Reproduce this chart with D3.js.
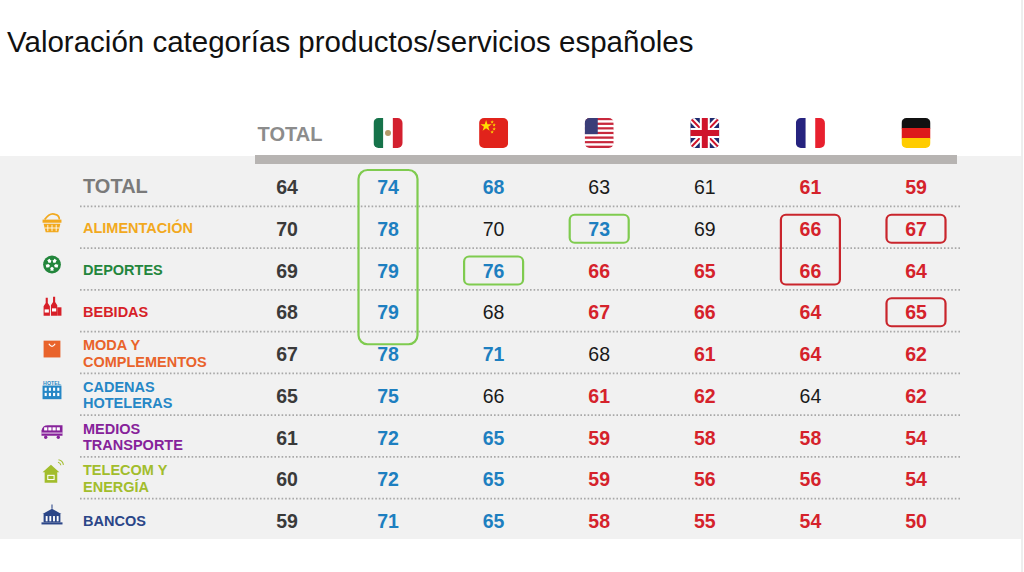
<!DOCTYPE html>
<html>
<head>
<meta charset="utf-8">
<script src="https://cdn.jsdelivr.net/npm/d3@7"></script>
<style>
  body { margin: 0; background: #fff; }
  svg { display: block; font-family: "Liberation Sans", Arial, sans-serif; }
</style>
</head>
<body>
<div class="chart"></div>
<script>
var width = 1024,
    height = 572;

// columns: TOTAL + countries
var countries = ["MX", "CN", "US", "UK", "FR", "DE"];
var categories = ["TOTAL", "ALIMENTACIÓN", "DEPORTES", "BEBIDAS", "MODA Y COMPLEMENTOS",
  "CADENAS HOTELERAS", "MEDIOS TRANSPORTE", "TELECOM Y ENERGÍA", "BANCOS"];
var labelLines = [["TOTAL"], ["ALIMENTACIÓN"], ["DEPORTES"], ["BEBIDAS"], ["MODA Y", "COMPLEMENTOS"],
  ["CADENAS", "HOTELERAS"], ["MEDIOS", "TRANSPORTE"], ["TELECOM Y", "ENERGÍA"], ["BANCOS"]];

var totalCol = [64, 70, 69, 68, 67, 65, 61, 60, 59];
var mexico   = [74, 78, 79, 79, 78, 75, 72, 72, 71];
var china    = [68, 70, 76, 68, 71, 66, 65, 65, 65];
var usa      = [63, 73, 66, 67, 68, 61, 59, 59, 58];
var uk       = [61, 69, 65, 66, 61, 62, 58, 56, 55];
var france   = [61, 66, 66, 64, 64, 64, 58, 56, 54];
var germany  = [59, 67, 64, 65, 62, 62, 54, 54, 50];

// significance: "b" above, "r" below, "n" neutral
var signifMX = ["b", "b", "b", "b", "b", "b", "b", "b", "b"];
var signifCN = ["b", "n", "b", "n", "b", "n", "b", "b", "b"];
var signifUS = ["n", "b", "r", "r", "n", "r", "r", "r", "r"];
var signifUK = ["n", "n", "r", "r", "r", "r", "r", "r", "r"];
var signifFR = ["r", "r", "r", "r", "r", "n", "r", "r", "r"];
var signifDE = ["r", "r", "r", "r", "r", "r", "r", "r", "r"];

var catColors = ["#7a7a7a", "#f2a91e", "#23863c", "#d71f28", "#e9632b", "#2587c6", "#86229a", "#a2bd2c", "#2b4688"];

// highlighted cells: [country, first row, last row, kind]
var highlights = [["MX", 0, 3, "g"], ["CN", 2, 2, "g"], ["US", 1, 1, "g"],
  ["FR", 1, 2, "r"], ["DE", 1, 1, "r"], ["DE", 3, 3, "r"]];

var values = [mexico, china, usa, uk, france, germany];
var signif = [signifMX, signifCN, signifUS, signifUK, signifFR, signifDE];

var x = d3.scalePoint().domain(countries).range([388, 916]);
var xTotal = 287;
var y = d3.scalePoint().domain(d3.range(categories.length)).range([187, 521]);
var step = y.step();

var svg = d3.select("div.chart").append("svg")
    .attr("width", width)
    .attr("height", height);

svg.append("text")
    .attr("x", 7)
    .attr("y", 52)
    .style("font-size", "29.5px")
    .style("fill", "#111")
    .text("Valoración categorías productos/servicios españoles");

// gray panel
svg.append("rect")
    .attr("x", 0).attr("y", 156)
    .attr("width", 1021).attr("height", 383)
    .attr("fill", "#f1f1f1");

svg.append("line")
    .attr("x1", 1022).attr("x2", 1022)
    .attr("y1", 0).attr("y2", height)
    .attr("stroke", "#dcdcdc").attr("stroke-width", 1);

// header bar
svg.append("rect")
    .attr("x", 255).attr("y", 155)
    .attr("width", 702).attr("height", 9)
    .attr("fill", "#b7b4b2");

svg.append("text")
    .attr("x", 290).attr("y", 141)
    .attr("text-anchor", "middle")
    .style("font-size", "20px").style("font-weight", "bold")
    .style("fill", "#8c8c8c")
    .text("TOTAL");

// flags
var defs = svg.append("defs");
var flagW = 29, flagH = 30, flagTop = 118;

countries.forEach(function(c) {
  var fx = x(c) - flagW / 2;
  defs.append("clipPath").attr("id", "clip-" + c)
    .append("rect")
    .attr("x", fx).attr("y", flagTop)
    .attr("width", flagW).attr("height", flagH)
    .attr("rx", 5);
  var g = svg.append("g").attr("clip-path", "url(#clip-" + c + ")");
  drawFlag(g, c, fx, flagTop, flagW, flagH);
});

function drawFlag(g, c, fx, fy, w, h) {
  if (c == "MX" || c == "FR") {
    var cols = c == "MX" ? ["#16734a", "#ffffff", "#d3202f"] : ["#26237f", "#ffffff", "#e8202e"];
    cols.forEach(function(col, i) {
      g.append("rect").attr("x", fx + i * w / 3).attr("y", fy)
        .attr("width", w / 3 + 0.5).attr("height", h).attr("fill", col);
    });
    if (c == "MX") {
      g.append("circle").attr("cx", fx + w / 2).attr("cy", fy + h / 2)
        .attr("r", 3).attr("fill", "#b49a6a");
    }
  } else if (c == "DE") {
    ["#111111", "#dd1b1b", "#ffcc00"].forEach(function(col, i) {
      g.append("rect").attr("x", fx).attr("y", fy + i * h / 3)
        .attr("width", w).attr("height", h / 3 + 0.5).attr("fill", col);
    });
  } else if (c == "CN") {
    g.append("rect").attr("x", fx).attr("y", fy).attr("width", w).attr("height", h).attr("fill", "#e1231b");
    var star = d3.symbol().type(d3.symbolStar);
    g.append("path").attr("d", star.size(40)()).attr("transform", "translate(" + (fx + 7) + "," + (fy + 8) + ")").attr("fill", "#ffde00");
    [[13, 4], [15, 7], [15, 11], [13, 14]].forEach(function(p) {
      g.append("path").attr("d", star.size(4)()).attr("transform", "translate(" + (fx + p[0]) + "," + (fy + p[1]) + ")").attr("fill", "#ffde00");
    });
  } else if (c == "US") {
    d3.range(13).forEach(function(i) {
      g.append("rect").attr("x", fx).attr("y", fy + i * h / 13)
        .attr("width", w).attr("height", h / 13 + 0.3)
        .attr("fill", i % 2 ? "#ffffff" : "#c8283c");
    });
    g.append("rect").attr("x", fx).attr("y", fy).attr("width", w * 0.45).attr("height", h * 7 / 13).attr("fill", "#3a3d78");
  } else if (c == "UK") {
    g.append("rect").attr("x", fx).attr("y", fy).attr("width", w).attr("height", h).attr("fill", "#1f2a6e");
    g.append("line").attr("x1", fx).attr("y1", fy).attr("x2", fx + w).attr("y2", fy + h).attr("stroke", "#fff").attr("stroke-width", 6);
    g.append("line").attr("x1", fx + w).attr("y1", fy).attr("x2", fx).attr("y2", fy + h).attr("stroke", "#fff").attr("stroke-width", 6);
    g.append("line").attr("x1", fx).attr("y1", fy).attr("x2", fx + w).attr("y2", fy + h).attr("stroke", "#cf142b").attr("stroke-width", 2);
    g.append("line").attr("x1", fx + w).attr("y1", fy).attr("x2", fx).attr("y2", fy + h).attr("stroke", "#cf142b").attr("stroke-width", 2);
    g.append("rect").attr("x", fx + w / 2 - 5).attr("y", fy).attr("width", 10).attr("height", h).attr("fill", "#fff");
    g.append("rect").attr("x", fx).attr("y", fy + h / 2 - 5).attr("width", w).attr("height", 10).attr("fill", "#fff");
    g.append("rect").attr("x", fx + w / 2 - 3).attr("y", fy).attr("width", 6).attr("height", h).attr("fill", "#cf142b");
    g.append("rect").attr("x", fx).attr("y", fy + h / 2 - 3).attr("width", w).attr("height", 6).attr("fill", "#cf142b");
  }
}

// dotted separators
svg.append("g").selectAll("line")
  .data(d3.range(categories.length - 1))
  .join("line")
    .attr("x1", 80).attr("x2", 962)
    .attr("y1", function(i) { return y(i) + step / 2 - 1.5; })
    .attr("y2", function(i) { return y(i) + step / 2 - 1.5; })
    .attr("stroke", "#a8a8a8")
    .attr("stroke-width", 1.6)
    .attr("stroke-dasharray", "1.6,2");

// highlight boxes
svg.append("g").selectAll("rect")
  .data(highlights)
  .join("rect")
    .attr("x", function(d) { return x(d[0]) - 29.5; })
    .attr("y", function(d) { return y(d[1]) - (d[0] == "MX" ? 17 : 14); })
    .attr("width", 59)
    .attr("height", function(d) { return y(d[2]) - y(d[1]) + (d[0] == "MX" ? 49 : 28); })
    .attr("rx", function(d) { return d[0] == "MX" ? 9 : 5; })
    .attr("fill", "none")
    .attr("stroke", function(d) { return d[3] == "g" ? "#7fcb4f" : "#c9252c"; })
    .attr("stroke-width", 2.2);

// category labels
var labels = svg.append("g").selectAll("text")
  .data(labelLines)
  .join("text")
    .attr("x", 83)
    .style("font-weight", "bold")
    .style("font-size", function(d, i) { return i == 0 ? "20px" : "14.5px"; })
    .style("fill", function(d, i) { return catColors[i]; });

labels.each(function(lines, i) {
  var t = d3.select(this);
  var base = i == 0 ? y(i) + 6 : (lines.length == 1 ? y(i) + 4.5 : y(i) - 4);
  lines.forEach(function(l, k) {
    t.append("tspan").attr("x", 83).attr("y", base + k * 16.5).text(l);
  });
});

// TOTAL column
svg.append("g").selectAll("text")
  .data(totalCol)
  .join("text")
    .attr("x", xTotal)
    .attr("y", function(d, i) { return y(i) + 7; })
    .attr("text-anchor", "middle")
    .style("font-size", "19.5px")
    .style("font-weight", "bold")
    .style("fill", "#3a3a3a")
    .text(function(d) { return d; });

// country columns
countries.forEach(function(c, ci) {
  svg.append("g").selectAll("text")
    .data(values[ci])
    .join("text")
      .attr("x", x(c))
      .attr("y", function(d, i) { return y(i) + 7; })
      .attr("text-anchor", "middle")
      .style("font-size", "19.5px")
      .style("font-weight", function(d, i) { return signif[ci][i] == "n" ? "normal" : "bold"; })
      .style("fill", function(d, i) {
        var s = signif[ci][i];
        return s == "b" ? "#1d7fc0" : s == "r" ? "#d5222b" : "#1a1a1a";
      })
      .text(function(d) { return d; });
});

// icons
var iconX = 52;
var icons = svg.append("g");

function icon(i, draw) {
  var g = icons.append("g").attr("transform", "translate(" + iconX + "," + (y(i) - 6) + ") scale(1.05)");
  draw(g, catColors[i]);
}

// basket
icon(1, function(g, col) {
  g.append("path").attr("d", "M-7,-3 Q-2,-10 3,-8 Q7,-7 7,-3").attr("fill", "none").attr("stroke", col).attr("stroke-width", 1.6);
  g.append("rect").attr("x", -9).attr("y", -3).attr("width", 18).attr("height", 3).attr("fill", col);
  g.append("path").attr("d", "M-8,1 L8,1 L6,9 L-6,9 Z").attr("fill", col);
  [-4, 0, 4].forEach(function(v) {
    g.append("line").attr("x1", v).attr("x2", v).attr("y1", 2).attr("y2", 8).attr("stroke", "#fff").attr("stroke-width", 0.8);
  });
  g.append("line").attr("x1", -7).attr("x2", 7).attr("y1", 5).attr("y2", 5).attr("stroke", "#fff").attr("stroke-width", 0.8);
});

// ball
icon(2, function(g, col) {
  g.append("circle").attr("r", 8.5).attr("fill", col);
  g.append("circle").attr("r", 6).attr("fill", "#fff");
  g.append("path").attr("d", d3.symbol().type(d3.symbolStar).size(34)()).attr("fill", col);
  [0, 72, 144, 216, 288].forEach(function(a) {
    var r = a * Math.PI / 180;
    g.append("circle").attr("cx", 6 * Math.sin(r)).attr("cy", -6 * Math.cos(r)).attr("r", 2.2).attr("fill", col);
  });
});

// bottles
icon(3, function(g, col) {
  g.append("path").attr("d", "M-8,9 L-8,0 L-6,-3 L-6,-8 L-4,-8 L-4,-3 L-2,0 L-2,9 Z").attr("fill", col);
  g.append("path").attr("d", "M-1,9 L-1,-1 L1,-4 L1,-9 L3,-9 L3,-4 L5,-1 L5,9 Z").attr("fill", col);
  g.append("path").attr("d", "M5,9 L5,1 L9,1 L9,9 Z").attr("fill", col);
  g.append("rect").attr("x", -7).attr("y", 3).attr("width", 4).attr("height", 3).attr("fill", "#fff");
  g.append("rect").attr("x", 0).attr("y", 2).attr("width", 4).attr("height", 3).attr("fill", "#fff");
});

// bag
icon(4, function(g, col) {
  g.append("rect").attr("x", -8).attr("y", -7).attr("width", 16).attr("height", 16).attr("fill", col);
  g.append("path").attr("d", "M-3,-4 Q0,1 3,-4").attr("fill", "none").attr("stroke", "#fff").attr("stroke-width", 1.2);
});

// hotel
icon(5, function(g, col) {
  g.append("text").attr("x", 0).attr("y", -5).attr("text-anchor", "middle")
    .style("font-size", "5px").style("font-weight", "bold").style("fill", col).text("HOTEL");
  g.append("rect").attr("x", -9).attr("y", -4).attr("width", 18).attr("height", 13).attr("fill", col);
  [-6, -2, 2, 6].forEach(function(v) {
    [-2, 3].forEach(function(w) {
      g.append("rect").attr("x", v - 1).attr("y", w).attr("width", 2).attr("height", 3).attr("fill", "#fff");
    });
  });
});

// train
icon(6, function(g, col) {
  g.append("path").attr("d", "M-10,4 L-10,-1 Q-9,-6 -4,-6 L10,-6 L10,4 Z").attr("fill", col);
  [-6, -2, 2, 6].forEach(function(v) {
    g.append("rect").attr("x", v - 1.5).attr("y", -4).attr("width", 3).attr("height", 3).attr("fill", "#fff");
  });
  g.append("line").attr("x1", -10).attr("x2", 10).attr("y1", 1.5).attr("y2", 1.5).attr("stroke", "#fff").attr("stroke-width", 0.8);
  [-6, 6].forEach(function(v) {
    g.append("circle").attr("cx", v).attr("cy", 5.5).attr("r", 1.6).attr("fill", col);
  });
});

// house + wifi
icon(7, function(g, col) {
  g.append("path").attr("d", "M-9,-1 L-1,-8 L7,-1 L5,-1 L5,9 L-7,9 L-7,-1 Z").attr("fill", col);
  g.append("rect").attr("x", -4).attr("y", 2).attr("width", 6).attr("height", 4).attr("fill", "none").attr("stroke", "#fff").attr("stroke-width", 1);
  [3, 5.5].forEach(function(r) {
    g.append("path").attr("d", d3.arc()({innerRadius: r, outerRadius: r + 1, startAngle: 0.2, endAngle: 1.4}))
      .attr("transform", "translate(5,-7)").attr("fill", col);
  });
});

// bank
icon(8, function(g, col) {
  g.append("path").attr("d", "M-9,-1 L0,-6 L9,-1 Z").attr("fill", col);
  g.append("rect").attr("x", -8).attr("y", -1).attr("width", 16).attr("height", 8).attr("fill", col);
  [-5, -1.5, 2, 5.5].forEach(function(v) {
    g.append("rect").attr("x", v - 1).attr("y", 1).attr("width", 1.8).attr("height", 5).attr("fill", "#fff");
  });
  g.append("rect").attr("x", -10).attr("y", 7).attr("width", 20).attr("height", 2).attr("fill", col);
  g.append("line").attr("x1", 0).attr("x2", 0).attr("y1", -6).attr("y2", -10).attr("stroke", col).attr("stroke-width", 1);
});
</script>
</body>
</html>
